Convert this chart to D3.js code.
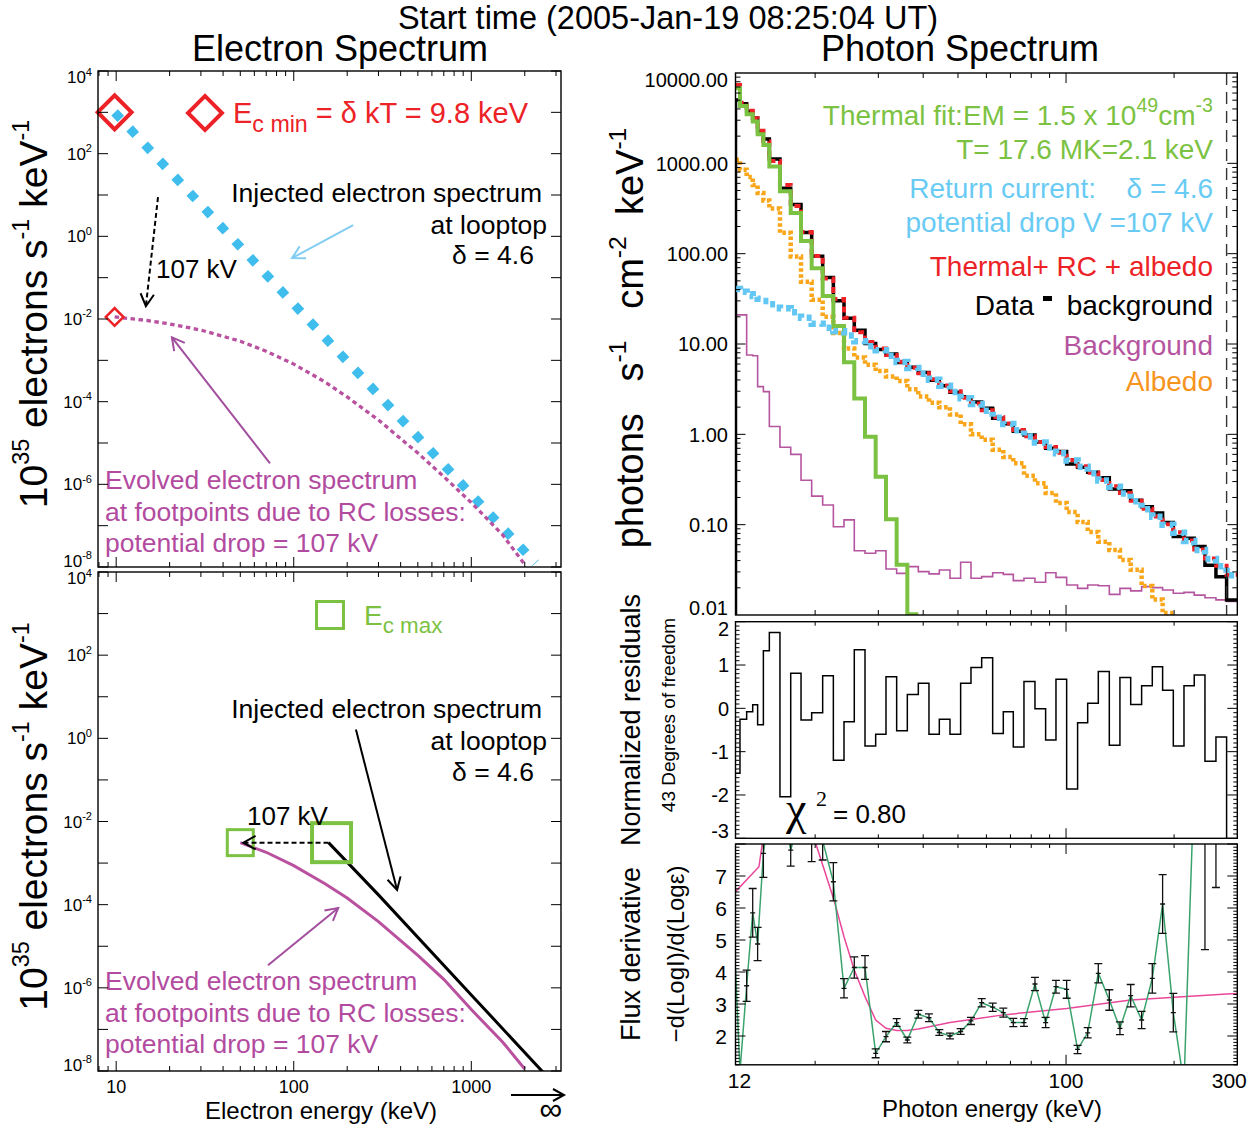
<!DOCTYPE html>
<html lang="en">
<head>
<meta charset="utf-8">
<title>Electron and photon spectra</title>
<script src="https://cdn.jsdelivr.net/npm/d3@7"></script>
<style>
  body { margin: 0; background: #fff; }
  svg { font-family: "Liberation Sans", Arial, Helvetica, sans-serif; }
  text { white-space: pre; }
</style>
</head>
<body>
<script>
// ---------- electron spectra (keV ; 10^35 electrons s^-1 keV^-1) ----------
var injTopE = [9.8, 20, 50, 100, 200, 500, 1000, 2000, 2300];
var injTopF = [1000, 37.6, 0.556, 0.0229, 9.44e-4, 1.40e-5, 5.74e-7, 2.37e-8, 1.25e-8];
var evoTopE = [9.8, 15, 20, 30, 50, 70, 100, 150, 200, 300, 500, 700, 1000, 1500, 2000];
var evoTopF = [1.12e-2, 9.2e-3, 7.6e-3, 5.4e-3, 2.9e-3, 1.66e-3, 8.1e-4, 3.0e-4, 1.3e-4, 3.6e-5, 5.7e-6, 1.54e-6, 3.6e-7, 6.0e-8, 1.15e-8];
var injBotE = [157, 300, 1000, 2700];
var injBotF = [3.1e-3, 1.72e-4, 6.76e-7, 7.0e-9];
var evoBotE = [50, 70, 100, 150, 200, 300, 500, 700, 1000, 1500, 2000];
var evoBotF = [3.1e-3, 1.82e-3, 8.7e-4, 3.2e-4, 1.45e-4, 3.9e-5, 6.0e-6, 1.6e-6, 3.0e-7, 5.0e-8, 1.12e-8];
var ecMin = {E: 9.8, F: 1000, foot: 1.12e-2};
var ecMax = {E: 157, foot: 50, F: 3.1e-3};
var eTickLabels = ['10', '100', '1000'];
var eDecades = [4, 2, 0, -2, -4, -6, -8];

// ---------- photon spectrum (keV ; photons s^-1 cm^-2 keV^-1) ----------
var binEdges = [12.0, 12.35, 12.89, 13.40, 13.83, 14.35, 14.91, 15.96, 17.10, 18.27, 19.56, 20.99, 22.48,
  24.07, 25.71, 27.54, 29.49, 31.51, 33.74, 36.13, 38.77, 41.51, 44.36, 47.50, 50.86, 54.35, 58.21, 62.46,
  66.87, 71.30, 76.35, 81.93, 87.73, 93.75, 100.4, 107.7, 114.9, 123.0, 132.0, 141.3, 151.4, 162.4, 173.9,
  185.8, 199.0, 213.1, 227.6, 243.8, 261.6, 280.1, 300.0];
var dataBg = [5010, 4570, 3780, 3180, 2260, 1860, 1120, 531, 351, 172, 93.5, 54.6, 30.1, 19.3, 14.2, 10.1,
  8.71, 7.76, 6.24, 5.52, 4.85, 3.98, 3.45, 2.92, 2.60, 2.28, 1.94, 1.51, 1.31, 1.08, 0.982, 0.822, 0.700,
  0.646, 0.468, 0.432, 0.380, 0.331, 0.248, 0.237, 0.186, 0.158, 0.135, 0.106, 0.0741, 0.0708, 0.0575,
  0.0355, 0.0265, 0.0147];
var totalModel = [7380, 4680, 3810, 3160, 2300, 1760, 1060, 574, 338, 174, 94, 53, 31.5, 19.5, 13.5, 10.5,
  8.9, 7.55, 6.35, 5.45, 4.73, 4.07, 3.48, 2.99, 2.54, 2.19, 1.85, 1.55, 1.32, 1.12, 0.955, 0.822, 0.724,
  0.624, 0.519, 0.442, 0.376, 0.313, 0.266, 0.224, 0.184, 0.150, 0.123, 0.101, 0.0822, 0.0668, 0.0531,
  0.0422, 0.0351, 0.0279];
var thermal = [6800, 4300, 3500, 2900, 2100, 1600, 925, 490, 282, 138, 69, 34, 15.8, 6.3, 2.5, 0.94, 0.34,
  0.115, 0.036, 0.0102];
var returnCurrent = [40.7, 38.0, 35.5, 33.9, 31.6, 29.9, 27.5, 24.8, 22.4, 19.5, 16.8, 15.1, 13.8, 12.4,
  10.7, 9.44, 8.51, 7.41, 6.31, 5.43, 4.68, 4.03, 3.44, 2.95, 2.51, 2.16, 1.83, 1.53, 1.30, 1.11, 0.944,
  0.813, 0.716, 0.617, 0.513, 0.437, 0.372, 0.309, 0.263, 0.221, 0.182, 0.148, 0.122, 0.100, 0.0813,
  0.0661, 0.0525, 0.0417, 0.0347, 0.0275];
var background = [21, 21, 7.55, 7.4, 3.37, 2.97, 1.22, 0.72, 0.60, 0.31, 0.207, 0.165, 0.095, 0.113,
  0.0515, 0.0482, 0.0515, 0.0323, 0.0289, 0.0343, 0.0302, 0.0285, 0.0315, 0.0255, 0.0383, 0.0255, 0.0266,
  0.0294, 0.0282, 0.024, 0.0255, 0.023, 0.0294, 0.0261, 0.0215, 0.0197, 0.0215, 0.0211, 0.0169, 0.0197,
  0.0185, 0.0206, 0.0201, 0.0189, 0.0174, 0.0178, 0.0166, 0.0155, 0.0147, 0.0141];
var albedo = [1096, 851, 708, 575, 468, 389, 316, 170, 93.3, 49.0, 30.9, 20.0, 13.2, 8.91, 7.08, 5.89,
  5.01, 4.37, 3.89, 3.16, 2.63, 2.24, 2.0, 1.66, 1.29, 1.0, 0.871, 0.676, 0.562, 0.479, 0.347, 0.288,
  0.224, 0.174, 0.138, 0.107, 0.0832, 0.0646, 0.0525, 0.0407, 0.0316, 0.0209, 0.0148, 0.0105];
var upperFitE = 280.1;
var photonTickLabels = ['0.01', '0.10', '1.00', '10.00', '100.00', '1000.00', '10000.00'];

// normalized residuals per bin
var residuals = [-1.5, -0.25, -0.08, 0.08, -0.38, 1.33, 1.75, -2.04, 0.81, -0.27, -0.10, 0.75, -1.20,
  -0.31, 1.35, -0.87, -0.60, 0.73, -0.52, 0.32, 0.58, -0.60, -0.25, -0.60, 0.58, 0.94, 1.17, -0.58, -0.08,
  -0.89, 0.62, -0.01, -0.73, 0.67, -1.86, -0.33, 0.12, 0.85, -0.85, 0.71, 0.09, 0.52, 0.96, 0.42, -0.87,
  0.52, 0.77, -1.22, -0.66, -3.4];
var residTicks = [2, 1, 0, -1, -2, -3];

// flux derivative -d(logI)/d(log e) at bin edges, with errors
var derivVal = [4.1, 0.9, 3.57, 5.85, 4.875, 7.71, 9.0, 9.5, 7.81, 9.0, 8.3, 8.1, 6.82, 3.49, 4.14, 4.14,
  1.46, 1.98, 2.42, 1.875, 2.68, 2.57, 2.11, 2.0, 2.14, 2.47, 3.04, 2.90, 2.73, 2.42, 2.42, 3.625, 2.42,
  3.54, 3.46, 1.58, 2.10, 3.96, 3.125, 2.24, 3.26, 2.5, 3.80, 6.125, 2.73, 0.5, 10, 9.5, 9.0];
var derivErr = [null, null, 0.49, 0.76, 0.52, 0.75, null, null, 0.5, null, 0.85, 0.6, 0.6, 0.3, 0.33, 0.37,
  0.14, 0.16, 0.12, 0.09, 0.12, 0.12, 0.09, 0.09, 0.09, 0.11, 0.13, 0.13, 0.14, 0.13, 0.12, 0.21, 0.16,
  0.2, 0.28, 0.13, 0.16, 0.30, 0.32, 0.2, 0.35, 0.27, 0.46, 0.92, 0.6, null, null, 4.8, 2.36];
var modelDerivE = [12, 13.95, 14.5, 17, 19.5, 20.1, 22.57, 24.07, 25.71, 27.54, 29.49, 31.51, 33.74, 36.13,
  38.77, 47.5, 66.87, 100.4, 151.4, 280.1, 300];
var modelDerivV = [6.51, 7.29, 8.6, 10, 8.6, 8.0, 6.25, 5.10, 4.06, 3.23, 2.5, 2.24, 2.17, 2.17, 2.22, 2.42,
  2.66, 2.86, 3.125, 3.31, 3.33];
var derivTicks = [7, 6, 5, 4, 3, 2];
var photonXLabels = [12, 100, 300];

// ---------- colours ----------
var cRed = '#ec2227', cDiam = '#3fbdec', cArrowBlue = '#82cdf2', cMagText = '#b24b9f',
    cMagLine = '#b9519f', cMagArrow = '#a24e9e', cGreen = '#7cc242', cRC = '#62c7f2',
    cRCText = '#69cbf4', cOrange = '#f7941d', cAlbedo = '#f9a61a', cBg = '#b5559f',
    cDerGreen = '#3aa36d', cPink = '#e9489a';

// ---------- layout ----------
var w = 1260, h = 1130;
var svg = d3.select('body').append('svg').attr('width', w).attr('height', h);

var L = {x0: 98, x1: 561};
var topBox = {y0: 71, y1: 567}, botBox = {y0: 572, y1: 1071};
var R = {x0: 735.5, x1: 1237.3};
var phBox = {y0: 73, y1: 615}, resBox = {y0: 621.7, y1: 838.3}, derBox = {y0: 844, y1: 1064.8};

var ex = d3.scaleLog().domain([7.9, 3200]).range([L.x0, L.x1]);
var eyTop = d3.scaleLog().domain([1e-8, 1e4]).range([topBox.y1, topBox.y0]);
var eyBot = d3.scaleLog().domain([1e-8, 1e4]).range([botBox.y1, botBox.y0]);
var px = d3.scaleLog().domain([12, 300]).range([R.x0, R.x1]);
var py = d3.scaleLog().domain([0.01, 10000]).range([phBox.y1, phBox.y0]);
var ry = d3.scaleLinear().domain([-3, 2]).range([resBox.y1, resBox.y0]);
var dy = d3.scaleLinear().domain([1.1, 8]).range([derBox.y1, derBox.y0]);

var defs = svg.append('defs');
function clip(id, x0, x1, box) {
  defs.append('clipPath').attr('id', id).append('rect')
    .attr('x', x0).attr('y', box.y0).attr('width', x1 - x0).attr('height', box.y1 - box.y0);
  return 'url(#' + id + ')';
}
var clipTop = clip('cTop', L.x0, L.x1, topBox), clipBot = clip('cBot', L.x0, L.x1, botBox);
var clipPh = clip('cPh', R.x0, R.x1, phBox), clipRes = clip('cRes', R.x0, R.x1, resBox),
    clipDer = clip('cDer', R.x0, R.x1, derBox);

// ---------- helpers ----------
function logTicks(lo, hi) {
  var out = [];
  for (var k = Math.floor(Math.log10(lo)); k <= Math.ceil(Math.log10(hi)); k++)
    for (var m = 1; m < 10; m++) {
      var v = m * Math.pow(10, k);
      if (v >= lo * 1.0001 && v <= hi * 0.9999) out.push({v: v, major: m === 1});
    }
  return out;
}
function linTicks(lo, hi, step, majorEvery) {
  var out = [];
  for (var i = Math.ceil(lo / step - 1e-6); i * step <= hi + 1e-6; i++)
    out.push({v: i * step, major: Math.abs(i % majorEvery) === 0});
  return out;
}
function frame(x0, x1, box, xs, xt, ys, yt, maj, min) {
  var g = svg.append('g').attr('stroke', '#000').attr('stroke-width', 1);
  xt.forEach(function(t) {
    var x = xs(t.v), len = t.major ? maj : min;
    g.append('line').attr('x1', x).attr('x2', x).attr('y1', box.y1).attr('y2', box.y1 - len);
    g.append('line').attr('x1', x).attr('x2', x).attr('y1', box.y0).attr('y2', box.y0 + len);
  });
  yt.forEach(function(t) {
    var y = ys(t.v), len = t.major ? maj : min;
    g.append('line').attr('x1', x0).attr('x2', x0 + len).attr('y1', y).attr('y2', y);
    g.append('line').attr('x1', x1).attr('x2', x1 - len).attr('y1', y).attr('y2', y);
  });
  svg.append('rect').attr('x', x0).attr('y', box.y0).attr('width', x1 - x0).attr('height', box.y1 - box.y0)
    .attr('fill', 'none').attr('stroke', '#000').attr('stroke-width', 1.4);
}
// tick label baseline kept inside its panel
function labelY(y, box, size) {
  return Math.max(box.y0 + size * 0.72, Math.min(box.y1, y + size * 0.36));
}
function rich(x, y, parts, size, o) {
  o = o || {};
  var t = svg.append('text').attr('x', x).attr('y', y).attr('font-size', size)
    .attr('fill', o.fill || '#000').attr('text-anchor', o.anchor || 'start');
  if (o.rotate) t.attr('transform', 'rotate(-90,' + x + ',' + y + ')');
  if (o.family) t.attr('font-family', o.family);
  var cur = 0;
  parts.forEach(function(p) {
    var kind = p[1] || 'n';
    var shift = kind === 'sup' ? -size * 0.45 : kind === 'sub' ? size * 0.3 : 0;
    var fs = kind === 'n' ? size : size * (p[2] || 0.65);
    t.append('tspan').attr('dy', shift - cur).attr('font-size', fs).text(p[0]);
    cur = shift;
  });
  return t;
}
function arrow(xs, ys, a, b, color, width, dash) {
  var x1 = xs(a[0]), y1 = ys(a[1]), x2 = xs(b[0]), y2 = ys(b[1]);
  var ang = Math.atan2(y2 - y1, x2 - x1), hl = 14, sp = 0.5;
  var g = svg.append('g').attr('stroke', color).attr('stroke-width', width).attr('fill', 'none');
  g.append('line').attr('x1', x1).attr('y1', y1).attr('x2', x2).attr('y2', y2)
    .attr('stroke-dasharray', dash || null);
  g.append('polyline').attr('points', [
    [x2 - hl * Math.cos(ang - sp), y2 - hl * Math.sin(ang - sp)], [x2, y2],
    [x2 - hl * Math.cos(ang + sp), y2 - hl * Math.sin(ang + sp)]].join(' '));
}
function zip(a, b) { return a.map(function(v, i) { return [v, b[i]]; }); }
function steps(edges, vals, fromFloor) {
  var pts = vals.map(function(v, i) { return [edges[i], v]; });
  pts.push([edges[vals.length], vals[vals.length - 1]]);
  if (fromFloor !== undefined) pts.unshift([edges[0], fromFloor]);
  return pts;
}

// ---------- titles ----------
svg.append('text').attr('x', 668).attr('y', 29).attr('text-anchor', 'middle').attr('font-size', 32.5)
  .text('Start time (2005-Jan-19 08:25:04 UT)');
svg.append('text').attr('x', 340).attr('y', 61).attr('text-anchor', 'middle').attr('font-size', 36)
  .text('Electron Spectrum');
svg.append('text').attr('x', 960).attr('y', 61).attr('text-anchor', 'middle').attr('font-size', 36)
  .text('Photon Spectrum');

// ---------- left panels ----------
var eXT = logTicks(7.9, 3200);
var eYT = d3.range(-8, 5).map(function(k) { return {v: Math.pow(10, k), major: true}; });

[[eyTop, topBox], [eyBot, botBox]].forEach(function(p) {
  var ys = p[0], box = p[1];
  eDecades.forEach(function(k) {
    rich(92, labelY(ys(Math.pow(10, k)), box, 17), [['10'], [String(k), 'sup', 0.65]], 17, {anchor: 'end'});
  });
  rich(47, (box.y0 + box.y1) / 2 - 5,
    [['10'], ['35', 'sup', 0.6], [' electrons s'], ['-1', 'sup', 0.6], [' keV'], ['-1', 'sup', 0.6]],
    39, {anchor: 'middle', rotate: true});
});

// top: injected (thick blue dotted) and evolved (magenta dotted)
var gTop = svg.append('g').attr('clip-path', clipTop);
var eLineTop = d3.line().x(function(d) { return ex(d[0]); }).y(function(d) { return eyTop(d[1]); });
gTop.append('path').attr('d', eLineTop(zip(injTopE, injTopF))).attr('fill', 'none')
  .attr('stroke', cDiam).attr('stroke-width', 9).attr('stroke-dasharray', '9,13');
gTop.append('path').attr('d', eLineTop(zip(evoTopE, evoTopF))).attr('fill', 'none')
  .attr('stroke', cMagLine).attr('stroke-width', 3.3).attr('stroke-dasharray', '4.5,3.5');

var sq = d3.symbol().type(d3.symbolSquare);
function diamond(x, y, side, sw) {
  svg.append('path').attr('d', sq.size(side * side)()).attr('fill', 'none').attr('stroke', cRed)
    .attr('stroke-width', sw).attr('transform', 'translate(' + x + ',' + y + ') rotate(45)');
}
diamond(ex(ecMin.E), eyTop(ecMin.F), 24, 4);
diamond(ex(ecMin.E), eyTop(ecMin.foot), 12.5, 2.5);
diamond(205, 113, 24, 4);
rich(233, 123, [['E'], ['c min', 'sub', 0.8], [' = δ kT = 9.8 keV']], 29, {fill: cRed});

arrow(ex, eyTop, [216, 1.87], [97.8, 0.297], cArrowBlue, 2);
arrow(ex, eyTop, [17.2, 8.9], [14.7, 0.0204], '#000', 2, '5,3');
arrow(ex, eyTop, [73.5, 3.2e-6], [20.6, 3.6e-3], cMagArrow, 2);

svg.append('text').attr('x', 542).attr('y', 202).attr('text-anchor', 'end').attr('font-size', 26.5)
  .text('Injected electron spectrum');
svg.append('text').attr('x', 547).attr('y', 234).attr('text-anchor', 'end').attr('font-size', 26.5)
  .text('at looptop');
svg.append('text').attr('x', 493).attr('y', 264).attr('text-anchor', 'middle').attr('font-size', 26.5)
  .text('δ = 4.6');
svg.append('text').attr('x', 156).attr('y', 278).attr('font-size', 26).text('107 kV');
['Evolved electron spectrum', 'at footpoints due to RC losses:', 'potential drop = 107 kV']
  .forEach(function(s, i) {
    svg.append('text').attr('x', 105).attr('y', 489 + i * 31.7).attr('font-size', 26.5)
      .attr('fill', cMagText).text(s);
  });

// bottom: injected (black) and evolved (magenta solid)
var gBot = svg.append('g').attr('clip-path', clipBot);
var eLineBot = d3.line().x(function(d) { return ex(d[0]); }).y(function(d) { return eyBot(d[1]); });
gBot.append('path').attr('d', eLineBot(zip(injBotE, injBotF))).attr('fill', 'none')
  .attr('stroke', '#000').attr('stroke-width', 3);
gBot.append('path').attr('d', eLineBot(zip(evoBotE, evoBotF))).attr('fill', 'none')
  .attr('stroke', cMagLine).attr('stroke-width', 3);
function square(x, y, side, sw) {
  svg.append('rect').attr('x', x - side / 2).attr('y', y - side / 2).attr('width', side).attr('height', side)
    .attr('fill', 'none').attr('stroke', cGreen).attr('stroke-width', sw);
}
square(ex(ecMax.E) + 3, eyBot(ecMax.F), 39, 4);
square(ex(ecMax.foot), eyBot(ecMax.F), 26, 3);
square(330, 615, 27, 3);
rich(364, 625, [['E'], ['c max', 'sub', 0.8]], 28, {fill: cGreen});

arrow(ex, eyBot, [ecMax.E, ecMax.F], [ecMax.foot * 1.04, ecMax.F], '#000', 2, '5,3');
arrow(ex, eyBot, [224, 1.62], [382, 2.26e-4], '#000', 2);
arrow(ex, eyBot, [71.6, 3.5e-6], [178, 8.3e-5], cMagArrow, 2);

svg.append('text').attr('x', 542).attr('y', 718).attr('text-anchor', 'end').attr('font-size', 26.5)
  .text('Injected electron spectrum');
svg.append('text').attr('x', 547).attr('y', 750).attr('text-anchor', 'end').attr('font-size', 26.5)
  .text('at looptop');
svg.append('text').attr('x', 493).attr('y', 781).attr('text-anchor', 'middle').attr('font-size', 26.5)
  .text('δ = 4.6');
svg.append('text').attr('x', 247).attr('y', 825).attr('font-size', 26).text('107 kV');
['Evolved electron spectrum', 'at footpoints due to RC losses:', 'potential drop = 107 kV']
  .forEach(function(s, i) {
    svg.append('text').attr('x', 105).attr('y', 990 + i * 31.7).attr('font-size', 26.5)
      .attr('fill', cMagText).text(s);
  });

frame(L.x0, L.x1, topBox, ex, eXT, eyTop, eYT, 10, 5);
frame(L.x0, L.x1, botBox, ex, eXT, eyBot, eYT, 10, 5);

eTickLabels.forEach(function(s) {
  svg.append('text').attr('x', ex(+s)).attr('y', 1093).attr('text-anchor', 'middle').attr('font-size', 18).text(s);
});
svg.append('text').attr('x', 321).attr('y', 1119).attr('text-anchor', 'middle').attr('font-size', 24)
  .text('Electron energy (keV)');
svg.append('line').attr('x1', 511).attr('x2', 563).attr('y1', 1095).attr('y2', 1095)
  .attr('stroke', '#000').attr('stroke-width', 2);
svg.append('polyline').attr('points', '553,1089 564,1095 553,1101').attr('fill', 'none')
  .attr('stroke', '#000').attr('stroke-width', 2);
svg.append('text').attr('x', 551).attr('y', 1120).attr('text-anchor', 'middle').attr('font-size', 32).text('∞');

// ---------- photon spectrum ----------
var gPh = svg.append('g').attr('clip-path', clipPh);
var hist = d3.line().x(function(d) { return px(d[0]); }).y(function(d) { return py(d[1]); })
  .curve(d3.curveStepAfter);
function histPath(vals, color, width, dash, fromFloor) {
  gPh.append('path').attr('d', hist(steps(binEdges, vals, fromFloor))).attr('fill', 'none')
    .attr('stroke', color).attr('stroke-width', width).attr('stroke-dasharray', dash || null);
}
histPath(background, cBg, 1.6, null, 0.001);
histPath(albedo, cAlbedo, 4.5, '3.5,2.5');
histPath(dataBg, '#000', 3.5, null, 0.001);
histPath(totalModel, cRed, 4, '6,4');
histPath(thermal, cGreen, 4);
histPath(returnCurrent, cRC, 6.5, '5,5');
gPh.append('line').attr('x1', px(upperFitE)).attr('x2', px(upperFitE)).attr('y1', phBox.y0).attr('y2', phBox.y1)
  .attr('stroke', '#333').attr('stroke-width', 1.4).attr('stroke-dasharray', '12,7');

var pXT = logTicks(12, 300);
var pYT = logTicks(0.01, 10000);
frame(R.x0, R.x1, phBox, px, pXT, py, pYT, 10, 5);
photonTickLabels.forEach(function(s) {
  svg.append('text').attr('x', 728).attr('y', labelY(py(+s), phBox, 20)).attr('text-anchor', 'end')
    .attr('font-size', 20).text(s);
});

var legend = [
  {y: 125, c: cGreen, parts: [['Thermal fit:EM = 1.5 x 10'], ['49', 'sup', 0.7], ['cm'], ['-3', 'sup', 0.7]]},
  {y: 159, c: cGreen, parts: [['T= 17.6 MK=2.1 keV']]},
  {y: 232, c: cRCText, parts: [['potential drop V =107 kV']]},
  {y: 276, c: cRed, parts: [['Thermal+ RC + albedo']]},
  {y: 355, c: cBg, parts: [['Background']]},
  {y: 391, c: cOrange, parts: [['Albedo']]}
];
legend.forEach(function(l) { rich(1213, l.y, l.parts, 28, {anchor: 'end', fill: l.c}); });
rich(1096, 198, [['Return current:']], 28, {anchor: 'end', fill: cRCText});
rich(1213, 198, [['δ = 4.6']], 28, {anchor: 'end', fill: cRCText});
rich(1034, 315, [['Data']], 28, {anchor: 'end'});
svg.append('rect').attr('x', 1043).attr('y', 296).attr('width', 9).attr('height', 5).attr('fill', '#000');
rich(1213, 315, [['background']], 28, {anchor: 'end'});

rich(643, 338, [['photons   s'], ['-1', 'sup'], ['   cm'], ['-2', 'sup'], ['  keV'], ['-1', 'sup']], 38,
  {anchor: 'middle', rotate: true});

// ---------- residuals ----------
var gRes = svg.append('g').attr('clip-path', clipRes);
var rLine = d3.line().x(function(d) { return px(d[0]); }).y(function(d) { return ry(d[1]); })
  .curve(d3.curveStepAfter);
gRes.append('path').attr('d', rLine(steps(binEdges, residuals))).attr('fill', 'none')
  .attr('stroke', '#000').attr('stroke-width', 1.5);
frame(R.x0, R.x1, resBox, px, pXT, ry, linTicks(-3, 2, 0.1, 10), 10, 4);
residTicks.forEach(function(v) {
  svg.append('text').attr('x', 729).attr('y', labelY(ry(v), resBox, 20)).attr('text-anchor', 'end')
    .attr('font-size', 20).text(v);
});
rich(786, 824, [['χ']], 46, {family: '"Liberation Serif", "DejaVu Serif", serif'});
rich(816, 806, [['2']], 22, {family: '"Liberation Serif", "DejaVu Serif", serif'});
rich(833, 823, [['= 0.80']], 26);
rich(640, 720, [['Normalized residuals']], 27, {anchor: 'middle', rotate: true});
rich(675, 715, [['43 Degrees of freedom']], 19, {anchor: 'middle', rotate: true});

// ---------- flux derivative ----------
var gDer = svg.append('g').attr('clip-path', clipDer);
var dLine = d3.line().x(function(d) { return px(d[0]); }).y(function(d) { return dy(d[1]); });
gDer.append('path').attr('d', dLine(zip(modelDerivE, modelDerivV))).attr('fill', 'none')
  .attr('stroke', cPink).attr('stroke-width', 1.5);
gDer.append('path').attr('d', dLine(zip(binEdges.slice(0, derivVal.length), derivVal))).attr('fill', 'none')
  .attr('stroke', cDerGreen).attr('stroke-width', 1.5);
var gErr = gDer.append('g').attr('stroke', '#111').attr('stroke-width', 1.3);
derivVal.forEach(function(v, i) {
  if (derivErr[i] === null) return;
  var x = px(binEdges[i]), lo = dy(v - derivErr[i]), hi = dy(v + derivErr[i]), c = dy(v);
  gErr.append('line').attr('x1', x).attr('x2', x).attr('y1', lo).attr('y2', hi);
  gErr.append('line').attr('x1', x - 4).attr('x2', x + 4).attr('y1', lo).attr('y2', lo);
  gErr.append('line').attr('x1', x - 4).attr('x2', x + 4).attr('y1', hi).attr('y2', hi);
  gErr.append('line').attr('x1', x - 2.5).attr('x2', x + 2.5).attr('y1', c).attr('y2', c);
});
frame(R.x0, R.x1, derBox, px, pXT, dy, linTicks(1.1, 8, 0.1, 10), 10, 4);
derivTicks.forEach(function(v) {
  svg.append('text').attr('x', 727).attr('y', dy(v) + 8).attr('text-anchor', 'end').attr('font-size', 21).text(v);
});
photonXLabels.forEach(function(v, i) {
  var shift = i === 0 ? 4 : i === photonXLabels.length - 1 ? -8 : 0;
  svg.append('text').attr('x', px(v) + shift).attr('y', 1088).attr('text-anchor', 'middle')
    .attr('font-size', 21).text(v);
});
svg.append('text').attr('x', 992).attr('y', 1117).attr('text-anchor', 'middle').attr('font-size', 24)
  .text('Photon energy (keV)');
rich(640, 954, [['Flux derivative']], 27, {anchor: 'middle', rotate: true});
rich(684, 954, [['−d(LogI)/d(Logε)']], 24, {anchor: 'middle', rotate: true});
</script>
</body>
</html>
